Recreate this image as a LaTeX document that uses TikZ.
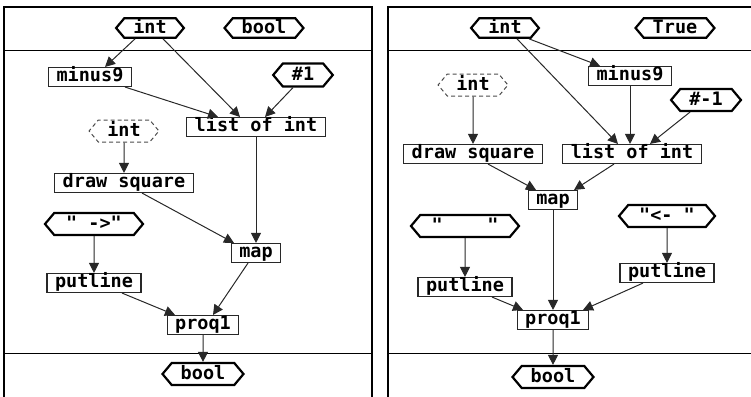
\documentclass[tikz,border=0pt]{standalone}
\usepackage{fontspec}
\setmonofont{DejaVu Sans Mono}
\usetikzlibrary{arrows.meta,shapes.symbols}
\definecolor{linecol}{RGB}{40,40,40}

\begin{document}
\begin{tikzpicture}[x=1pt,y=-1pt,
  every node/.style={font=\ttfamily\bfseries\fontsize{18.5}{18.5}\selectfont,text height=13pt,text depth=4pt,inner ysep=1pt},
  fn/.style={draw=linecol,line width=1.1pt,inner xsep=8pt},
  ty/.style={draw=black,line width=2.2pt,signal,signal to=west and east,signal pointer angle=100,inner xsep=9pt,text depth=2pt,minimum height=22pt},
  tytop/.style={ty,minimum height=19.5pt},
  dty/.style={ty,draw=black!70,line width=1pt,dash pattern=on 4pt off 3pt},
  fl/.style={draw=linecol,line width=1pt,-{Triangle[length=10pt,width=10pt]}}]
  \useasboundingbox (0,0) rectangle (751,396);
  % the two frames
  \foreach \l/\r in {4/372,388/760}{
    \draw[line width=2pt] (\l,400) -- (\l,7) -- (\r,7) -- (\r,400);
    \draw[line width=1pt] (\l,51) -- (\r,51);
    \draw[line width=1pt] (\l,353.5) -- (\r,353.5);}
  % left panel
  \node[tytop] (int) at (150,28) {int};
  \node[tytop] (bl) at (264,28) {bool};
  \node[fn] (m9) at (90,77) {minus9};
  \node[ty,minimum height=23pt] (c1) at (303,75) {\#1};
  \node[fn] (lst) at (256,127) {list of int};
  \node[dty] (dint) at (124,131) {int};
  \node[fn] (sq) at (124,183) {draw square};
  \node[ty,minimum width=98pt] (arw) at (94,224) {" ->"};
  \node[fn] (map) at (256,253) {map};
  \node[fn] (put) at (94,283) {putline};
  \node[fn] (pq) at (203,325) {proq1};
  \node[ty] (res) at (203,374) {bool};
  \draw[fl] ([xshift=-15pt]int.south) -- ([xshift=15pt]m9.north);
  \draw[fl] ([xshift=13pt]int.south) -- ([xshift=-16pt]lst.north);
  \draw[fl] ([xshift=35pt]m9.south) -- ([xshift=-38pt]lst.north);
  \draw[fl] ([xshift=-10pt]c1.south) -- ([xshift=9pt]lst.north);
  \draw[fl] (dint) -- (sq);
  \draw[fl] (lst) -- (map);
  \draw[fl] ([xshift=18pt]sq.south) -- ([xshift=-22pt]map.north);
  \draw[fl] (arw) -- (put);
  \draw[fl] ([xshift=28pt]put.south) -- ([xshift=-28pt]pq.north);
  \draw[fl] ([xshift=-8pt]map.south) -- ([xshift=10pt]pq.north);
  \draw[fl] (pq) -- (res);
  % right panel
  \begin{scope}[xshift=384pt]
    \node[tytop] (int2) at (121,28) {int};
    \node[tytop] (tru) at (291,28) {True};
    \node[fn] (m92) at (246,76) {minus9};
    \node[dty] (dint2) at (89,85) {int};
    \node[ty] (cm1) at (322,100) {\#-1};
    \node[fn] (sq2) at (89,154) {draw square};
    \node[fn] (lst2) at (248,154) {list of int};
    \node[fn] (map2) at (169,200) {map};
    \node[ty,minimum width=108pt] (sp) at (81,226) {"\ \ \ \ "};
    \node[ty,minimum width=96pt] (lar) at (283,216) {"<- "};
    \node[fn] (put2) at (81,287) {putline};
    \node[fn] (put3) at (283,273) {putline};
    \node[fn] (pq2) at (169,320) {proq1};
    \node[ty] (res2) at (169,377) {bool};
    \draw[fl] ([xshift=24pt]int2.south) -- ([xshift=-30pt]m92.north);
    \draw[fl] ([xshift=12pt]int2.south) -- ([xshift=-14pt]lst2.north);
    \draw[fl] (m92.south) -- ([xshift=-2pt]lst2.north);
    \draw[fl] ([xshift=-16pt]cm1.south) -- ([xshift=18pt]lst2.north);
    \draw[fl] (dint2) -- (sq2);
    \draw[fl] ([xshift=15pt]sq2.south) -- ([xshift=-17pt]map2.north);
    \draw[fl] ([xshift=-18pt]lst2.south) -- ([xshift=21pt]map2.north);
    \draw[fl] (map2) -- (pq2);
    \draw[fl] (sp) -- (put2);
    \draw[fl] (lar) -- (put3);
    \draw[fl] ([xshift=27pt]put2.south) -- ([xshift=-30pt]pq2.north);
    \draw[fl] ([xshift=-24pt]put3.south) -- ([xshift=30pt]pq2.north);
    \draw[fl] (pq2) -- (res2);
  \end{scope}
\end{tikzpicture}
\end{document}
